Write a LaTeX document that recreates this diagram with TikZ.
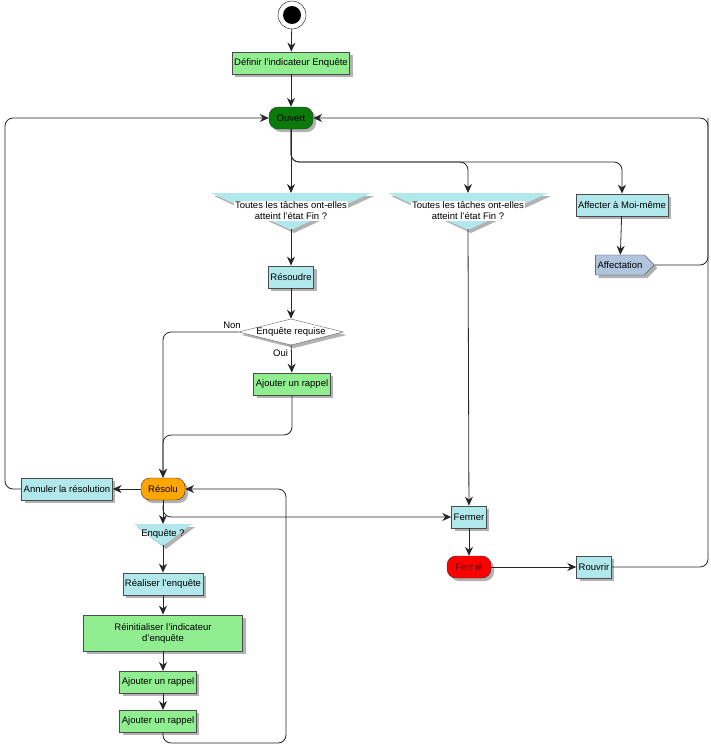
\documentclass[tikz,border=0pt]{standalone}
\usepackage{fontspec}
\setmainfont{Liberation Sans}
\usetikzlibrary{shapes.geometric,shapes.symbols,shadows,arrows.meta}
\definecolor{lg}{HTML}{90EE90}
\definecolor{lc}{HTML}{B0E8EC}
\definecolor{dg}{HTML}{0A7A0A}
\definecolor{org}{HTML}{FFA500}
\definecolor{stb}{HTML}{B0C4DE}
\begin{document}
\begin{tikzpicture}[x=1pt,y=-1pt,
  every node/.style={font=\fontsize{9.5}{11}\selectfont},
  shd/.style={drop shadow={shadow xshift=3pt,shadow yshift=-3pt,fill=black!30,opacity=1}},
  act/.style={draw=black!70,thick,shd,minimum height=22pt,inner xsep=5pt,inner sep=2pt},
  ga/.style={act,fill=lg},
  ca/.style={act,fill=lc},
  st/.style={draw=black!80,rounded corners=9pt,minimum height=22pt,minimum width=44pt,shd},
  ln/.style={draw=black!85,thick,rounded corners=8pt},
  ar/.style={ln,-{Stealth[length=9pt,width=8pt]}},
  dec/.style={fill=white,inner sep=1pt,align=center}
]
\useasboundingbox (0,0) rectangle (711,747);
% start
\node[circle,draw,minimum size=28pt,inner sep=0] (s) at (292,15) {};
\fill (292,15) circle (9pt);
\node[ga] (def) at (291,63) {Définir l'indicateur Enquête};
\node[st,fill=dg] (ouv) at (291,118) {Ouvert};
% decision 1
\fill[lc,shd] (211,193) -- (371,193) -- (291,230) -- cycle;
\node[dec] (d1) at (291,211) {Toutes les tâches ont-elles\\ atteint l'état Fin ?};
\coordinate (d1t) at (291,193); \coordinate (d1b) at (291,229);
% decision 2
\fill[lc,shd] (388,193) -- (548,193) -- (468,230) -- cycle;
\node[dec] (d2) at (468,211) {Toutes les tâches ont-elles\\ atteint l'état Fin ?};
\coordinate (d2t) at (468,193); \coordinate (d2b) at (468,229);
\node[ca] (aff) at (622,205) {Affecter à Moi-même};
\node[signal,signal to=east,draw=black!80,fill=stb,shd,minimum height=20pt,inner sep=2pt] (affn) at (620,265) {Affectation};
\node[ca] (res) at (291,277) {Résoudre};
\node[diamond,aspect=4,fill=white,draw=black!60,shd,inner sep=0pt,minimum width=88pt,minimum height=24pt] (req) at (291,332) {Enquête requise};
\node[ga] (aj1) at (292,384) {Ajouter un rappel};
\node[st,fill=org] (rso) at (163,489) {Résolu};
\node[ca] (ann) at (67,489) {Annuler la résolution};
\fill[lc,shd] (134,524) -- (192,524) -- (163,546) -- cycle;
\node[dec,fill=none] (enq) at (163,534) {Enquête ?};
\coordinate (enqt) at (163,524); \coordinate (enqb) at (163,545);
\node[ca] (rea) at (163,584) {Réaliser l'enquête};
\node[ga,minimum width=159pt,minimum height=36pt,align=center] (rei) at (163,633) {Réinitialiser l'indicateur\\ d'enquête};
\node[ga] (aj2) at (158,682) {Ajouter un rappel};
\node[ga] (aj3) at (158,721) {Ajouter un rappel};
\node[ca] (fer) at (469,517) {Fermer};
\node[st,fill=red,text=black!60!red] (fme) at (469,567) {Fermé};
\node[ca] (rou) at (594,567) {Rouvrir};
% connectors
\draw[ar] (s) -- (def);
\draw[ar] (def) -- (ouv);
\draw[ar] (ouv) -- (d1t);
\draw[ar] (ouv.south) |- (468,162) -- (d2t);
\draw[ar] (ouv.south) |- (622,162) -- (aff);
\draw[ar] (aff) -- (affn);
\draw[ar] (affn.east) -| (708,118) -- (ouv.east);
\draw[ln] (rou.east) -| (708,118);
\draw[ar] (ann.west) -| (5,118) -- (ouv.west);
\draw[ar] (d1b) -- (res);
\draw[ar] (res) -- (req);
\draw[ar] (req) -- node[pos=0.3,left,inner sep=3pt]{Oui} (aj1);
\draw[ar] (req.west) -| (rso.north);
\node at (232,325) {Non};
\draw[ar] (aj1.south) |- (163,435) -- (rso.north);
\draw[ar] (rso) -- (ann);
\draw[ar] (rso) -- (enqt);
\draw[ar] (163,505) |- (fer.west);
\draw[ar] (enqb) -- (rea.north);
\draw[ar] (rea.south) -- (rei.north);
\draw[ar] (rei.south) -- (163,671);
\draw[ar] (163,693) -- (163,710);
\draw[ar] (163,732) |- (286,743) |- (rso.east);
\draw[ar] (d2b) -- (fer);
\draw[ar] (fer) -- (fme);
\draw[ar] (fme) -- (rou);
\end{tikzpicture}
\end{document}
